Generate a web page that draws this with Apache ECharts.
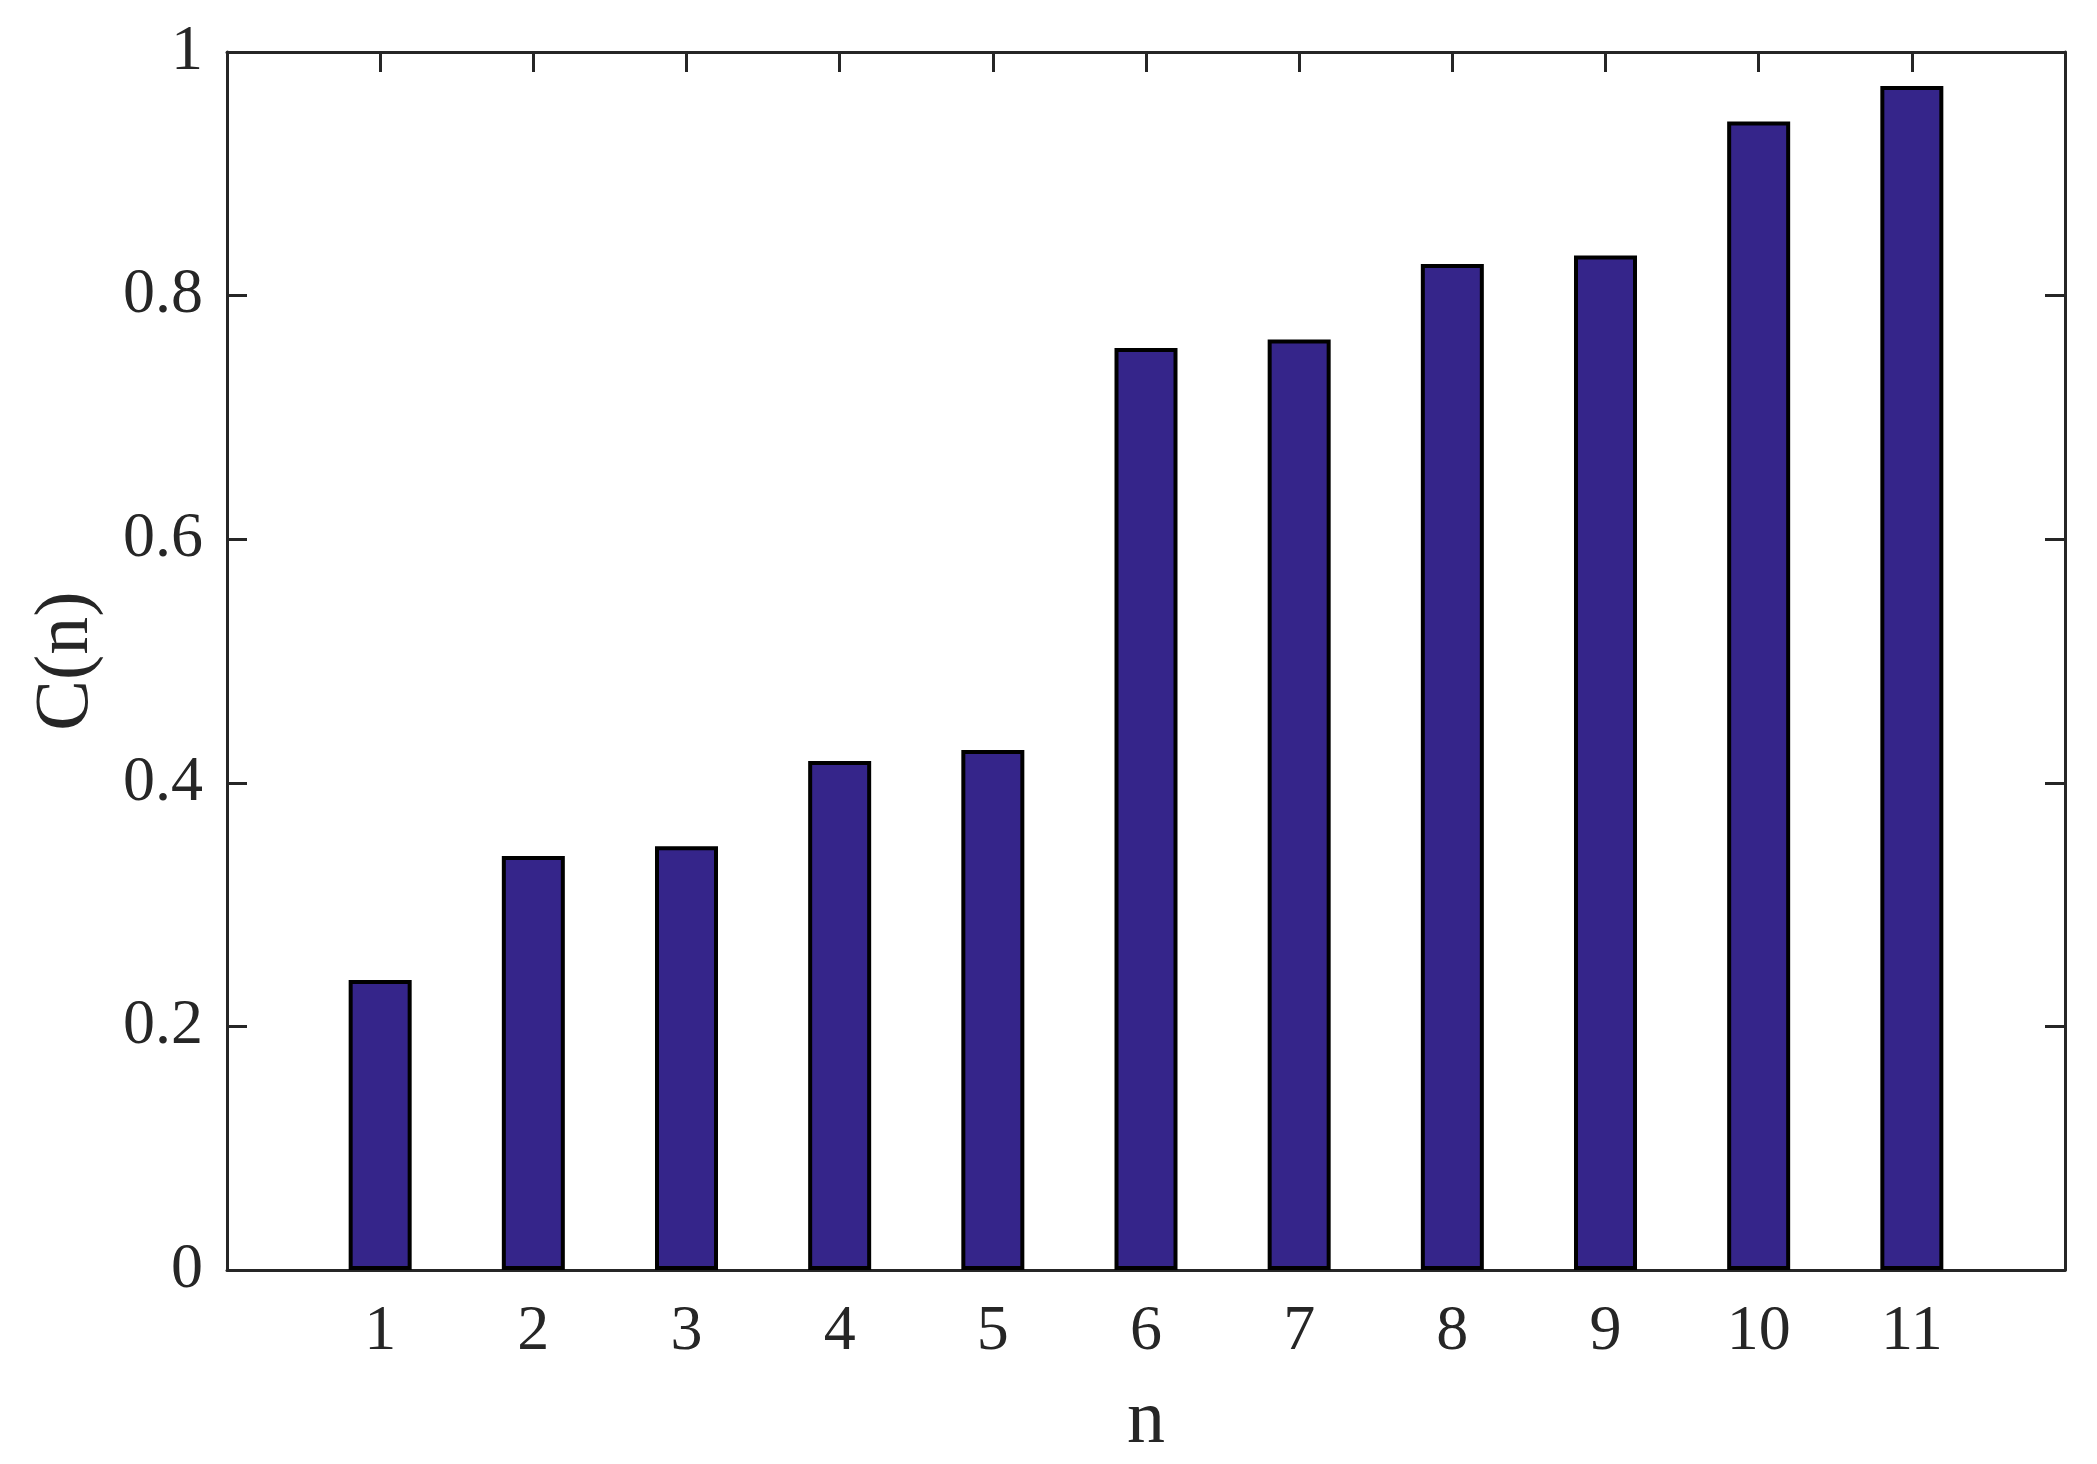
<!DOCTYPE html>
<html>
<head>
<meta charset="utf-8">
<script src="https://cdn.jsdelivr.net/npm/echarts@6/dist/echarts.min.js"></script>
<style>
html,body{margin:0;padding:0;background:#fff;}
#chart{width:2097px;height:1464px;}
</style>
</head>
<body>
<div id="chart"></div>
<script>
const categories = [1, 2, 3, 4, 5, 6, 7, 8, 9, 10, 11];
const values = [0.238, 0.340, 0.348, 0.418, 0.427, 0.757, 0.764, 0.826, 0.833, 0.943, 0.972];
const yTicks = [0, 0.2, 0.4, 0.6, 0.8, 1];
const xName = 'n';
const yName = 'C(n)';

const axisColor = '#262626';
const fontFam = '"Liberation Serif", "Times New Roman", Times, serif';

const chart = echarts.init(document.getElementById('chart'), null, {renderer: 'canvas'});
const seriesData = categories.map((c, i) => [c, values[i]]);

chart.setOption({
  backgroundColor: '#ffffff',
  animation: false,
  grid: {left: 227, right: 32, top: 52, bottom: 194, containLabel: false, outerBoundsMode: 'none'},
  xAxis: [{
    type: 'value', position: 'bottom', min: 0, max: 12, interval: 1,
    name: xName, nameLocation: 'middle', nameGap: 114,
    nameTextStyle: {fontFamily: fontFam, fontSize: 76, color: '#262626'},
    axisLine: {show: true, onZero: false, lineStyle: {color: axisColor, width: 3}},
    axisTick: {show: true, inside: true, length: 20, lineStyle: {color: axisColor, width: 3}, customValues: categories},
    axisLabel: {show: true, margin: 30, fontFamily: fontFam, fontSize: 64, color: '#262626', customValues: categories},
    splitLine: {show: false}
  }, {
    type: 'value', position: 'top', min: 0, max: 12, interval: 1,
    axisLine: {show: true, onZero: false, lineStyle: {color: axisColor, width: 3}},
    axisTick: {show: true, inside: true, length: 20, lineStyle: {color: axisColor, width: 3}, customValues: categories},
    axisLabel: {show: false},
    splitLine: {show: false}
  }],
  yAxis: [{
    type: 'value', position: 'left', min: 0, max: 1, interval: 0.2,
    name: yName, nameLocation: 'middle', nameGap: 122, nameRotate: 90,
    nameTextStyle: {fontFamily: fontFam, fontSize: 76, color: '#262626'},
    axisLine: {show: true, onZero: false, lineStyle: {color: axisColor, width: 3}},
    axisTick: {show: true, inside: true, length: 20, lineStyle: {color: axisColor, width: 3}, customValues: yTicks.slice(1, -1)},
    axisLabel: {show: true, margin: 24, fontFamily: fontFam, fontSize: 64, color: '#262626', customValues: yTicks},
    splitLine: {show: false}
  }, {
    type: 'value', position: 'right', min: 0, max: 1, interval: 0.2,
    axisLine: {show: true, onZero: false, lineStyle: {color: axisColor, width: 3}},
    axisTick: {show: true, inside: true, length: 20, lineStyle: {color: axisColor, width: 3}, customValues: yTicks.slice(1, -1)},
    axisLabel: {show: false},
    splitLine: {show: false}
  }],
  series: [{
    type: 'bar', xAxisIndex: 0, yAxisIndex: 0,
    data: seriesData,
    barWidth: 63,
    itemStyle: {color: '#35258A', borderColor: '#000000', borderWidth: 4},
    z: 3
  }]
});
</script>
</body>
</html>
